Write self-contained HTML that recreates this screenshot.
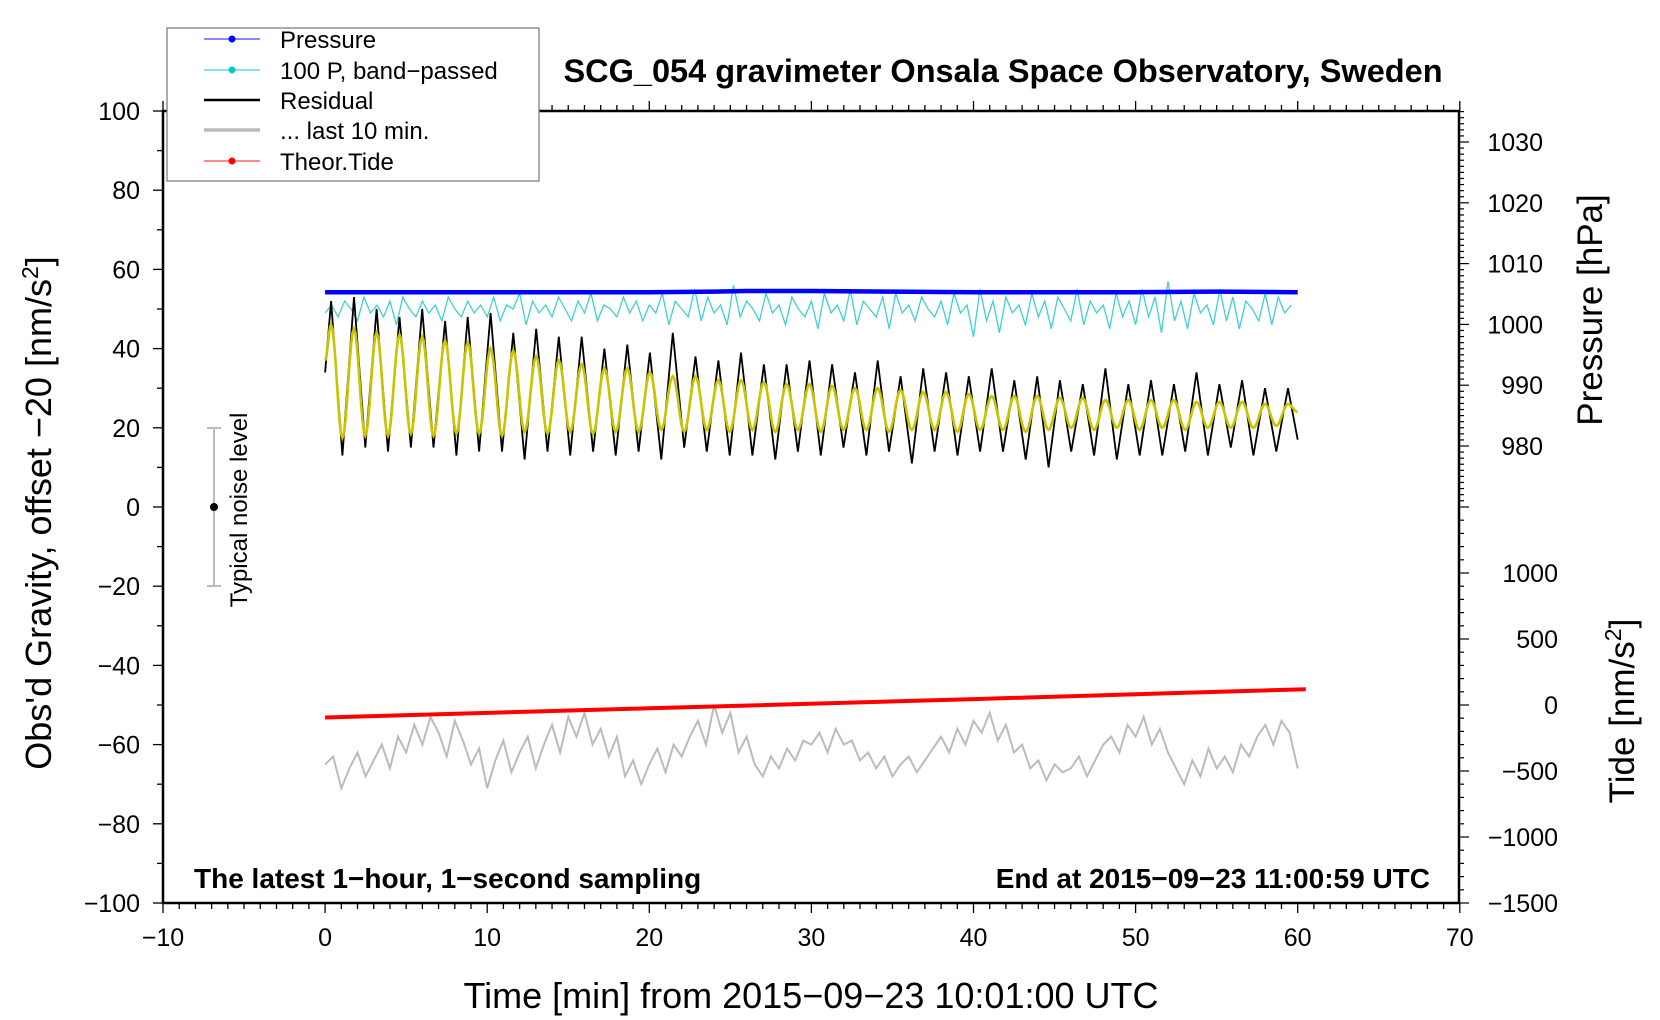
<!DOCTYPE html>
<html><head><meta charset="utf-8"><style>
html,body{margin:0;padding:0;background:#fff;}
svg{display:block;font-family:"Liberation Sans",Arial,sans-serif;}
</style></head><body>
<svg id="chart" width="1660" height="1020" viewBox="0 0 1660 1020" xmlns="http://www.w3.org/2000/svg">
<rect x="0" y="0" width="1660" height="1020" fill="#fff"/>
<g id="series"></g>
<g id="axes"></g>
<g>
<line x1="214" y1="428" x2="214" y2="586" stroke="#bbb" stroke-width="2"/>
<line x1="207" y1="428" x2="221" y2="428" stroke="#bbb" stroke-width="2"/>
<line x1="207" y1="586" x2="221" y2="586" stroke="#bbb" stroke-width="2"/>
<circle cx="214" cy="507" r="4" fill="#000"/>
<text transform="translate(247,510) rotate(-90)" text-anchor="middle" font-size="24">Typical noise level</text>
</g>
<text x="1003" y="82" text-anchor="middle" font-size="32.5" font-weight="bold">SCG_054 gravimeter Onsala Space Observatory, Sweden</text>
<text x="194" y="888" font-size="28" font-weight="bold">The latest 1−hour, 1−second sampling</text>
<text x="1430" y="888" text-anchor="end" font-size="28" font-weight="bold">End at 2015−09−23 11:00:59 UTC</text>
<text x="811" y="1008" text-anchor="middle" font-size="36">Time [min] from 2015−09−23 10:01:00 UTC</text>
<text transform="translate(51,513) rotate(-90)" text-anchor="middle" font-size="36">Obs'd Gravity, offset −20 [nm/s<tspan dy="-13" font-size="23">2</tspan><tspan dy="13">]</tspan></text>
<text transform="translate(1602,310) rotate(-90)" text-anchor="middle" font-size="35">Pressure [hPa]</text>
<text transform="translate(1634,711) rotate(-90)" text-anchor="middle" font-size="35">Tide [nm/s<tspan dy="-13" font-size="23">2</tspan><tspan dy="13">]</tspan></text>
<g>
<rect x="167" y="28" width="372" height="153" fill="#fff" stroke="#808080" stroke-width="1.3"/>
<g><line x1="204" y1="39" x2="260" y2="39" stroke="#4040ff" stroke-width="1.2"/><circle cx="232" cy="39" r="3.5" fill="#0000ff"/><text x="280" y="48" font-size="24">Pressure</text></g>
<g><line x1="204" y1="70" x2="260" y2="70" stroke="#40d0d0" stroke-width="1.2"/><circle cx="232" cy="70" r="3.5" fill="#00cccc"/><text x="280" y="79" font-size="24">100 P, band−passed</text></g>
<g><line x1="204" y1="100" x2="260" y2="100" stroke="#000" stroke-width="2.5"/><text x="280" y="109" font-size="24">Residual</text></g>
<g><line x1="204" y1="130" x2="260" y2="130" stroke="#bbb" stroke-width="3.5"/><text x="280" y="139" font-size="24">... last 10 min.</text></g>
<g><line x1="204" y1="161" x2="260" y2="161" stroke="#ff4040" stroke-width="1.2"/><circle cx="232" cy="161" r="3.5" fill="#ff0000"/><text x="280" y="170" font-size="24">Theor.Tide</text></g>
</g>
</svg>
<script>
const xTicks=[-10,0,10,20,30,40,50,60,70];
const xTickLabels=["−10","0","10","20","30","40","50","60","70"];
const yTicks=[100,80,60,40,20,0,-20,-40,-60,-80,-100];
const yTickLabels=["100","80","60","40","20","0","−20","−40","−60","−80","−100"];
const pTicks=[1030,1020,1010,1000,990,980];
const pTickLabels=["1030","1020","1010","1000","990","980"];
const tTicks=[1000,500,0,-500,-1000,-1500];
const tTickLabels=["1000","500","0","−500","−1000","−1500"];

const presT=[0,10,20,24,26,30,35,40,45,50,55,60];
const presV=[1005.3,1005.3,1005.3,1005.4,1005.5,1005.5,1005.4,1005.3,1005.3,1005.3,1005.4,1005.3];
const tideT=[0,20,40,60.5];
const tideV=[-95,-25,45,120];
const bandV=[49,51,48,52,50,47,53,49,51,48,52,46,53,50,48,52,49,51,47,53,50,48,52,49,51,
48,53,47,51,50,54,46,52,49,51,48,53,50,47,52,49,54,47,51,50,48,53,49,52,47,
51,49,54,46,52,50,48,55,47,53,49,51,46,56,48,52,50,47,54,49,51,46,53,50,48,
52,45,54,49,51,47,55,46,52,50,48,53,45,54,49,51,47,53,50,48,52,46,54,49,51,
43,55,47,52,44,53,49,51,46,54,48,52,45,53,50,47,55,46,52,49,51,45,54,48,52,
46,55,48,53,44,57,47,52,45,54,49,51,46,55,47,53,45,52,50,47,54,46,53,49,51];
const bandStep=0.4;
const grayV=[-65,-63,-71,-66,-62,-68,-64,-60,-66,-58,-62,-55,-60,-53,-57,-63,-54,-59,-65,-61,
-71,-64,-59,-67,-62,-58,-66,-60,-55,-62,-53,-58,-52,-60,-56,-63,-58,-68,-64,-70,
-65,-61,-67,-60,-63,-58,-54,-60,-50,-57,-52,-62,-58,-65,-68,-63,-66,-61,-64,-59,
-60,-57,-62,-56,-60,-59,-64,-62,-66,-63,-68,-65,-63,-67,-64,-61,-58,-62,-56,-60,
-54,-57,-52,-59,-55,-62,-60,-66,-64,-69,-65,-67,-66,-63,-68,-64,-60,-58,-62,-55,
-58,-53,-60,-56,-62,-66,-70,-64,-68,-61,-66,-63,-67,-60,-63,-58,-55,-60,-54,-57,-66];
const grayStep=0.5;
const resT=[0,0.37,1.07,1.78,2.48,3.18,3.88,4.59,5.29,5.99,6.69,7.40,8.10,8.80,9.50,10.21,10.91,11.61,12.31,13.02,13.72,14.42,15.12,15.83,16.53,17.23,17.93,18.64,19.34,20.04,20.74,21.45,22.15,22.85,23.55,24.26,24.96,25.66,26.36,27.07,27.77,28.47,29.17,29.88,30.58,31.28,31.98,32.69,33.39,34.09,34.79,35.50,36.20,36.90,37.60,38.31,39.01,39.71,40.41,41.12,41.82,42.52,43.22,43.93,44.63,45.33,46.03,46.74,47.44,48.14,48.84,49.55,50.25,50.95,51.65,52.36,53.06,53.76,54.46,55.17,55.87,56.57,57.27,57.98,58.68,59.4,60];
const smoothV=[37,46,17.5,45,18,44,18,43.5,18.5,43,18,42,18.5,41.5,18.5,40,18,39.5,19,38,18.5,37,19,36,18.5,35,19,35,19,34,19.5,33,19,33,19.5,32,19,32,19.5,31.5,19,31,19.5,31,19,30.5,19.5,30,19.5,30,19,29.5,19.5,29,19.5,29,19,28.5,19.5,28,19.5,28,19,28,19.5,27.5,20,27.5,19.5,27,20,27,19.5,27,20,27,19.5,26.5,20,26.5,20,26.5,20,26,20.5,26,24];
const residV=[34,52,13,53,15,50,14,48,15,50,15,47,13,48,14,49,14,44,12,45,14,43,13,43,14,40,13,41,14,39,12,44,15,38,14,37,13,39,13,36,12,36,14,37,13,36,15,34,13,37,14,33,11,35,14,34,13,33,14,35,14,32,12,33,10,32,14,31,13,35,12,31,13,32,13,31,14,34,13,31,15,32,13,30,14,30,17];

const X=t=>163+(t+10)*16.21;
const YL=v=>111+(100-v)*3.96;
const YP=p=>142+(1030-p)*6.08;
const YT=v=>903-(v+1500)*0.132;
const NS="http://www.w3.org/2000/svg";
const series=document.getElementById('series');
const axes=document.getElementById('axes');
function mk(tag,attrs,parent){const e=document.createElementNS(NS,tag);for(const k in attrs)e.setAttribute(k,attrs[k]);parent.appendChild(e);return e;}
function poly(xs,ys){return xs.map((x,i)=>x.toFixed(1)+','+ys[i].toFixed(1)).join(' ');}

let bx=bandV.map((v,i)=>X(i*bandStep)), by=bandV.map(v=>YL(v));
let e=mk('polyline',{points:poly(bx,by),fill:'none',stroke:'#3fd0d0','stroke-width':1.3},series);


e=mk('polyline',{points:poly(presT.map(X),presV.map(YP)),fill:'none',stroke:'#0000ff','stroke-width':4.5},series);


e=mk('polyline',{points:poly(resT.map(X),residV.map(YL)),fill:'none',stroke:'#000','stroke-width':1.8,'stroke-linejoin':'miter'},series);


let sx=[],sy=[];
for(let i=0;i<resT.length-1;i++){for(let k=0;k<8;k++){const f=k/8,w=(1-Math.cos(Math.PI*f))/2;sx.push(X(resT[i]+(resT[i+1]-resT[i])*f));sy.push(YL(smoothV[i]+(smoothV[i+1]-smoothV[i])*w));}}
sx.push(X(resT[resT.length-1]));sy.push(YL(smoothV[smoothV.length-1]));
e=mk('polyline',{points:poly(sx,sy),fill:'none',stroke:'#c8c400','stroke-width':2.6},series);


e=mk('polyline',{points:poly(grayV.map((v,i)=>X(i*grayStep)),grayV.map(YL)),fill:'none',stroke:'#bbb','stroke-width':2},series);


e=mk('polyline',{points:poly(tideT.map(X),tideV.map(YT)),fill:'none',stroke:'#ff0000','stroke-width':4},series);



e=mk('rect',{x:163,y:111,width:1296,height:792,fill:'none',stroke:'#000','stroke-width':2.5},axes);


for(let t=-10;t<=70;t++){const maj=t%10===0;mk('line',{x1:X(t),x2:X(t),y1:903,y2:903+(maj?10:6),stroke:'#000','stroke-width':1.3},axes);mk('line',{x1:X(t),x2:X(t),y1:111,y2:111-(maj?10:6),stroke:'#000','stroke-width':1.3},axes);}
xTicks.forEach((t,i)=>{e=mk('text',{x:X(t),y:946,'text-anchor':'middle','font-size':25},axes);e.textContent=xTickLabels[i];

});
for(let v=-100;v<=100;v+=10){const maj=v%20===0;mk('line',{x1:163,x2:163-(maj?10:6),y1:YL(v),y2:YL(v),stroke:'#000','stroke-width':1.3},axes);}
yTicks.forEach((v,i)=>{e=mk('text',{x:140,y:YL(v)+9,'text-anchor':'end','font-size':25},axes);e.textContent=yTickLabels[i];

});
for(let p=971;p<=1035;p++){const maj=p%10===0;mk('line',{x1:1459,x2:1459+(maj?10:5),y1:YP(p),y2:YP(p),stroke:'#000','stroke-width':1.2},axes);}
pTicks.forEach((p,i)=>{e=mk('text',{x:1543,y:YP(p)+9,'text-anchor':'end','font-size':25},axes);e.textContent=pTickLabels[i];

});
for(let v=-1500;v<=1500;v+=100){const maj=v%500===0;mk('line',{x1:1459,x2:1459+(maj?10:5),y1:YT(v),y2:YT(v),stroke:'#000','stroke-width':1.2},axes);}
tTicks.forEach((v,i)=>{e=mk('text',{x:1558,y:YT(v)+9,'text-anchor':'end','font-size':25},axes);e.textContent=tTickLabels[i];

});
</script>
</body></html>
